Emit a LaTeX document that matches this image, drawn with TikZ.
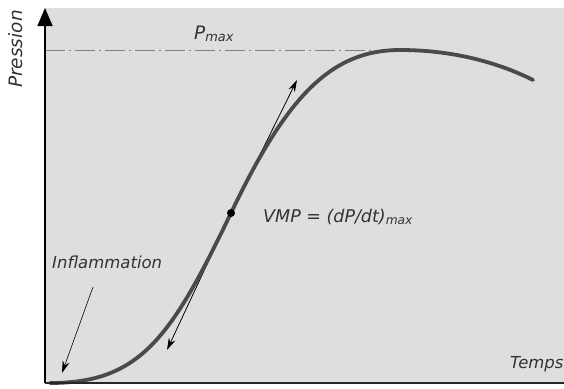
\documentclass[tikz,border=0pt]{standalone}
\usepackage{fontspec}
\setmainfont{DejaVu Sans}
\usetikzlibrary{arrows.meta}
\definecolor{panel}{HTML}{DEDEDE}
\definecolor{ink}{HTML}{333333}
\definecolor{curvegray}{HTML}{4A4A4A}
\tikzset{
  lbl/.style={text=ink, font=\itshape, inner sep=0pt},
  tangent/.style={black, line width=0.8pt, -{Stealth[length=12pt,width=7pt]}},
  pointer/.style={black, line width=0.6pt, -{Stealth[length=12pt,width=7pt]}},
}
\begin{document}
\begin{tikzpicture}[x=1pt,y=-1pt]
  \useasboundingbox (0,0) rectangle (564,388);
  % plotting panel
  \fill[panel] (45,8) rectangle (564,383);

  % key points of the pressure curve
  \coordinate (start) at (50,383);
  \coordinate (vmp) at (231,213);
  \coordinate (peak) at (400,50);
  \coordinate (tail) at (533,80);
  \coordinate (up) at (297,80);
  \coordinate (down) at (167,350);

  % maximum pressure level
  \coordinate (pmaxL) at (45,50);
  \coordinate (pmaxR) at (385,50);
  \draw[gray, line width=1pt, dash pattern=on 20pt off 4pt on 2pt off 4pt] (pmaxL) -- (pmaxR);

  % tangent at the inflection point
  \draw[tangent] (vmp) -- (up);
  \draw[tangent] (vmp) -- (down);

  % pressure curve
  \draw[curvegray, line width=3.8pt, line cap=round]
    (start) .. controls (140,383) and (171,338) .. (vmp)
            .. controls (286,98) and (330,50) .. (peak)
            .. controls (460,50) and (505,66) .. (tail);
  \fill[black] (vmp) circle (4pt);

  % axes
  \coordinate (origin) at (45,383);
  \coordinate (ytop) at (45,8);
  \coordinate (xend) at (564,383);
  \draw[black!85, line width=2.5pt] (origin) -- (xend);
  \draw[black, line width=1.6pt, -{Triangle[length=18pt,width=15pt]}] (origin) -- (ytop);

  % labels
  \node[lbl, rotate=90, font=\itshape\fontsize{18.5}{20}\selectfont] (pression) at (16,49) {Pression};
  \node[lbl, anchor=base west, font=\itshape\fontsize{18.5}{20}\selectfont] (pmax) at (194,39) {P\textsubscript{max}};
  \node[lbl, anchor=base west, font=\itshape\fontsize{16.5}{20}\selectfont] (infl) at (52,268) {Inflammation};
  \node[lbl, anchor=base west, font=\itshape\fontsize{17.5}{20}\selectfont] (vmplbl) at (263,222) {VMP = (dP/dt)\textsubscript{max}};
  \node[lbl, anchor=base west, font=\itshape\fontsize{16.5}{20}\selectfont] (temps) at (510,368) {Temps};

  \coordinate (inflStart) at (93,287);
  \coordinate (inflEnd) at (62,373);
  \draw[pointer] (inflStart) -- (inflEnd);
\end{tikzpicture}
\end{document}
